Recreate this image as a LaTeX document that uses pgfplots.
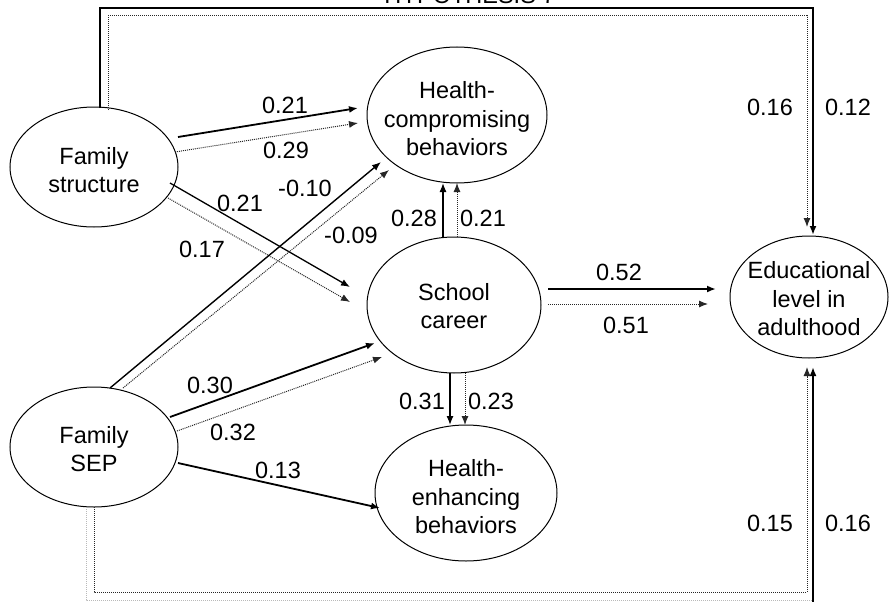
\documentclass[border=0pt]{standalone}
\usepackage{fontspec}
\setmainfont{Liberation Sans}
\usepackage{pgfplots}
\pgfplotsset{compat=1.18}
\usetikzlibrary{arrows.meta}
\newcommand\lab{\fontsize{23.5}{28.5}\selectfont}
\begin{document}
\begin{tikzpicture}[lbl/.style={font=\lab, inner sep=0pt}]
\begin{axis}[
  width=889pt, height=602pt, scale only axis,
  xmin=0, xmax=889, ymin=0, ymax=602, y dir=reverse,
  hide axis, clip=false,
  solidarr/.style={black, line width=1.8pt, -{Latex[length=9pt,width=7pt]}},
  dotarr/.style={black!85, line width=1pt, dash pattern=on 1pt off 1pt, -{Latex[length=9pt,width=7pt]}},
]
% ellipses
\draw[line width=1pt] (axis cs:94,167) ellipse [x radius=84, y radius=60];
\draw[line width=1pt] (axis cs:94,447) ellipse [x radius=84, y radius=60];
\draw[line width=1pt] (axis cs:457,115) ellipse [x radius=90, y radius=68];
\draw[line width=1pt] (axis cs:454,305) ellipse [x radius=87, y radius=68];
\draw[line width=1pt] (axis cs:466,493) ellipse [x radius=91, y radius=68];
\draw[line width=1pt] (axis cs:809,297) ellipse [x radius=79, y radius=61];
% ellipse texts
\node[lbl, align=center] at (axis cs:94,170) {Family\\structure};
\node[lbl, align=center] at (axis cs:94,449) {Family\\SEP};
\node[lbl, align=center] at (axis cs:457,119) {Health-\\compromising\\behaviors};
\node[lbl, align=center] at (axis cs:454,306) {School\\career};
\node[lbl, align=center] at (axis cs:466,497) {Health-\\enhancing\\behaviors};
\node[lbl, align=center] at (axis cs:809,299) {Educational\\level in\\adulthood};
% title (cut off at top, as in the reference)
\node[lbl, anchor=base] at (axis cs:470,4) {HYPOTHESIS 7};
% top long paths
\addplot[solidarr, line width=2.2pt] coordinates {(100,108) (100,8) (813,8) (813,235)};
\addplot[dotarr] coordinates {(108,110) (108,16) (807,16) (807,227)};
% bottom long paths
\addplot[gray!55, line width=1pt, dash pattern=on 1pt off 1pt] coordinates {(86,507) (86,600) (813,600)};
\addplot[dotarr] coordinates {(94,507) (94,592) (807,592) (807,367)};
\addplot[solidarr, line width=2.2pt] coordinates {(813,603) (813,367)};
% Family structure -> Health-compromising
\addplot[solidarr] coordinates {(178,137) (358,108)};
\addplot[dotarr] coordinates {(175,152) (358,123)};
% Family structure -> School career
\addplot[solidarr, line width=1.3pt] coordinates {(170,183) (350,287)};
\addplot[dotarr] coordinates {(168,198) (350,302)};
% Family SEP -> Health-compromising
\addplot[solidarr, line width=1.4pt] coordinates {(110,388) (381,162)};
\addplot[dotarr] coordinates {(123,388) (389,170)};
% Family SEP -> School career
\addplot[solidarr] coordinates {(170,417) (375,343)};
\addplot[dotarr] coordinates {(177,431) (382,357)};
% Family SEP -> Health-enhancing
\addplot[solidarr] coordinates {(178,463) (380,508)};
% School career -> Health-compromising
\addplot[solidarr, line width=1.3pt] coordinates {(443,237) (443,183)};
\addplot[dotarr] coordinates {(457,237) (457,183)};
% School career -> Health-enhancing
\addplot[solidarr, line width=1.3pt] coordinates {(450,373) (450,425)};
\addplot[dotarr] coordinates {(465,373) (465,425)};
% School career -> Educational level
\addplot[solidarr] coordinates {(548,289) (716,289)};
\addplot[dotarr] coordinates {(548,304) (708,304)};
% coefficients
\node[lbl] at (axis cs:285,105) {0.21};
\node[lbl] at (axis cs:286,150) {0.29};
\node[lbl] at (axis cs:240,203) {0.21};
\node[lbl] at (axis cs:202,249) {0.17};
\node[lbl] at (axis cs:305,188) {-0.10};
\node[lbl] at (axis cs:351,235) {-0.09};
\node[lbl] at (axis cs:414,218) {0.28};
\node[lbl] at (axis cs:483,218) {0.21};
\node[lbl] at (axis cs:619,272) {0.52};
\node[lbl] at (axis cs:626,325) {0.51};
\node[lbl] at (axis cs:422,401) {0.31};
\node[lbl] at (axis cs:491,401) {0.23};
\node[lbl] at (axis cs:210,385) {0.30};
\node[lbl] at (axis cs:233,432) {0.32};
\node[lbl] at (axis cs:278,470) {0.13};
\node[lbl] at (axis cs:770,107) {0.16};
\node[lbl] at (axis cs:848,107) {0.12};
\node[lbl] at (axis cs:770,523) {0.15};
\node[lbl] at (axis cs:848,523) {0.16};
\end{axis}
\pgfresetboundingbox
\useasboundingbox (current axis.south west) rectangle (current axis.north east);
\end{tikzpicture}
\end{document}
